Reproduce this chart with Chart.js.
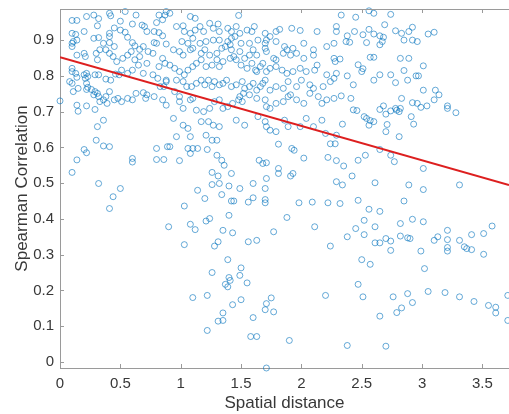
<!DOCTYPE html>
<html>
<head>
<meta charset="utf-8">
<script src="https://cdn.jsdelivr.net/npm/chart.js@4.4.1/dist/chart.umd.min.js"></script>
<style>
  html, body { margin: 0; padding: 0; background: #fff; }
  #wrap { width: 509px; height: 414px; }
</style>
</head>
<body>
<div id="wrap"><canvas id="chart" width="509" height="414"></canvas></div>
<script>
// Axis ticks
const xTicks = [0, 0.5, 1, 1.5, 2, 2.5, 3, 3.5];
const yTicks = [0, 0.1, 0.2, 0.3, 0.4, 0.5, 0.6, 0.7, 0.8, 0.9];

// Linear fit (end points)
const fitDistance = [0, 3.72];
const fitCorrelation = [0.852, 0.495];

// [spatial distance, spearman correlation]
const pointsNear = [
  [0.00,0.73],[0.10,0.955],[0.14,0.955],[0.22,0.966],[0.28,0.97],[0.32,0.96],[0.41,0.975],[0.42,0.968],[0.54,0.98],[0.63,0.97],[0.82,0.97],[0.87,0.97],[0.88,0.98],
  [0.31,0.94],[0.50,0.953],[0.45,0.934],[0.60,0.945],[0.68,0.942],[0.80,0.949],[0.85,0.957],
  [0.10,0.919],[0.13,0.916],[0.20,0.924],[0.10,0.891],[0.14,0.90],[0.10,0.882],[0.11,0.896],[0.28,0.905],[0.32,0.907],[0.41,0.919],[0.41,0.91],[0.50,0.928],[0.54,0.922],[0.36,0.891],[0.41,0.893],[0.45,0.882],[0.56,0.908],[0.60,0.893],[0.62,0.884],[0.66,0.874],[0.69,0.882],[0.78,0.924],[0.82,0.921],[0.85,0.912],[0.80,0.891],[0.78,0.893],[0.88,0.889],[0.72,0.924],[0.70,0.938],
  [0.33,0.873],[0.30,0.863],[0.31,0.845],[0.38,0.873],[0.41,0.863],[0.44,0.854],[0.47,0.84],[0.52,0.849],[0.56,0.858],[0.59,0.868],[0.62,0.845],[0.66,0.854],[0.73,0.868],[0.77,0.863],[0.85,0.849],[0.87,0.835],[0.82,0.826],
  [0.14,0.858],[0.20,0.863],[0.21,0.854],[0.10,0.821],[0.10,0.812],[0.13,0.807],[0.14,0.796],[0.20,0.803],[0.22,0.807],[0.23,0.798],[0.21,0.793],[0.29,0.803],[0.32,0.803],[0.38,0.791],[0.42,0.788],[0.46,0.805],[0.49,0.803],[0.51,0.816],[0.56,0.807],[0.60,0.816],[0.65,0.83],[0.72,0.835],[0.69,0.807],[0.77,0.803],[0.81,0.793],[0.88,0.788],
  [0.08,0.784],[0.10,0.779],[0.11,0.756],[0.15,0.765],[0.22,0.779],[0.23,0.768],[0.29,0.756],[0.31,0.751],[0.32,0.742],[0.36,0.733],[0.38,0.742],[0.39,0.723],[0.41,0.756],[0.45,0.733],[0.48,0.737],[0.51,0.728],[0.56,0.737],[0.60,0.733],[0.63,0.751],[0.69,0.753],[0.72,0.747],[0.71,0.737],[0.78,0.742],[0.83,0.77],[0.86,0.77],[0.88,0.784],[0.85,0.733],[0.88,0.718],
  [0.14,0.718],[0.15,0.701],[0.22,0.716],[0.29,0.706],[0.36,0.676],[0.31,0.658],[0.28,0.747],[0.33,0.728],[0.22,0.762],[0.26,0.762],
  [0.10,0.53],[0.14,0.565],[0.20,0.594],[0.22,0.585],[0.30,0.62],[0.36,0.604],[0.41,0.602],[0.32,0.499],[0.44,0.462],[0.50,0.485],[0.41,0.429],[0.60,0.569],[0.60,0.559],[0.80,0.597],[0.80,0.566],[0.86,0.566],[0.89,0.602],[0.90,0.378]
];

const pointsMid = [
  [0.91,0.975],[1.08,0.966],[1.12,0.961],[1.48,0.969],
  [0.965,0.938],[1.02,0.94],[1.03,0.924],[1.08,0.919],[1.12,0.928],[1.16,0.938],[1.19,0.924],[1.24,0.947],[1.27,0.933],[1.31,0.945],[1.32,0.924],[1.39,0.933],[1.42,0.924],[1.46,0.938],[1.49,0.919],[1.55,0.928],[1.59,0.924],[1.61,0.938],[1.70,0.919],[1.74,0.91],[1.79,0.924],[1.82,0.93],[1.92,0.933],[1.99,0.927],[2.13,0.924],[2.29,0.938],[2.29,0.924],
  [1.01,0.896],[1.06,0.891],[1.10,0.905],[1.16,0.891],[1.21,0.896],[1.27,0.90],[1.32,0.90],[1.39,0.896],[1.42,0.905],[1.45,0.91],[1.50,0.891],[1.57,0.891],[1.64,0.90],[1.71,0.90],[1.79,0.896],[1.86,0.882],[1.93,0.877],[2.02,0.891],[2.10,0.873],[2.21,0.882],[2.27,0.891],
  [0.94,0.873],[0.99,0.868],[1.02,0.858],[1.08,0.873],[1.10,0.877],[1.17,0.863],[1.20,0.873],[1.24,0.858],[1.30,0.863],[1.34,0.877],[1.37,0.882],[1.41,0.887],[1.42,0.873],[1.44,0.854],[1.49,0.868],[1.53,0.849],[1.57,0.858],[1.60,0.873],[1.63,0.858],[1.70,0.877],[1.70,0.891],[1.71,0.868],[1.77,0.849],[1.79,0.845],[1.85,0.863],[1.88,0.873],[1.91,0.858],[1.96,0.863],[2.02,0.849],[2.10,0.858],[2.13,0.83],[2.27,0.849],[2.28,0.84],
  [0.91,0.83],[0.95,0.821],[0.99,0.812],[1.03,0.803],[1.06,0.816],[1.10,0.826],[1.13,0.835],[1.17,0.845],[1.21,0.826],[1.26,0.83],[1.30,0.845],[1.32,0.826],[1.35,0.84],[1.41,0.849],[1.46,0.845],[1.50,0.83],[1.55,0.821],[1.59,0.835],[1.62,0.816],[1.63,0.812],[1.66,0.826],[1.68,0.835],[1.71,0.812],[1.74,0.821],[1.79,0.826],[1.84,0.816],[1.88,0.807],[1.93,0.812],[1.99,0.821],[2.04,0.812],[2.11,0.816],[2.21,0.803],[2.27,0.793],[2.29,0.807],
  [0.965,0.788],[1.02,0.784],[1.05,0.77],[1.09,0.77],[1.13,0.779],[1.17,0.788],[1.20,0.775],[1.23,0.788],[1.26,0.77],[1.28,0.784],[1.32,0.775],[1.35,0.779],[1.38,0.788],[1.42,0.77],[1.46,0.775],[1.51,0.784],[1.53,0.765],[1.57,0.77],[1.60,0.779],[1.63,0.76],[1.66,0.77],[1.68,0.779],[1.70,0.788],[1.74,0.76],[1.79,0.77],[1.85,0.765],[1.89,0.784],[1.96,0.77],[2.00,0.788],[2.07,0.775],[2.10,0.765],[2.18,0.77],[2.24,0.784],
  [0.95,0.756],[0.99,0.742],[0.99,0.728],[1.02,0.709],[1.08,0.733],[1.10,0.737],[1.13,0.704],[1.19,0.70],[1.24,0.709],[1.28,0.728],[1.32,0.733],[1.35,0.709],[1.39,0.714],[1.43,0.723],[1.48,0.733],[1.49,0.742],[1.51,0.728],[1.52,0.751],[1.57,0.747],[1.63,0.737],[1.70,0.733],[1.71,0.714],[1.74,0.709],[1.79,0.723],[1.85,0.728],[1.89,0.742],[1.91,0.747],[1.96,0.733],[2.02,0.723],[2.07,0.751],[2.14,0.742],[2.17,0.723],[2.21,0.733],[2.27,0.737],
  [0.94,0.681],[1.02,0.662],[1.06,0.653],[1.17,0.672],[1.23,0.672],[1.27,0.662],[1.32,0.658],[1.46,0.676],[1.53,0.662],[1.64,0.686],[1.70,0.672],[1.71,0.658],[1.74,0.648],[1.79,0.644],[1.86,0.676],[1.89,0.658],[1.99,0.658],[2.04,0.681],[2.10,0.658],[2.17,0.676],[2.20,0.639],[2.29,0.634],[0.965,0.63],[1.08,0.63],[1.21,0.634]
];

const pointsFar = [
  [2.33,0.97],[2.45,0.964],[2.56,0.982],[2.60,0.975],[2.74,0.972],[2.69,0.943],[2.56,0.93],[2.44,0.924],[2.38,0.912],[2.51,0.915],[2.60,0.917],[2.65,0.912],[2.68,0.908],[2.67,0.896],[2.78,0.926],[2.83,0.919],[2.89,0.924],[2.92,0.936],[2.85,0.90],[2.92,0.90],[2.96,0.896],[3.05,0.917],[3.10,0.922],[2.37,0.896],[2.40,0.894],[2.54,0.893],[2.65,0.887],
  [2.32,0.847],[2.57,0.852],[2.60,0.852],[2.82,0.849],[2.89,0.849],[2.47,0.831],[2.51,0.82],[2.50,0.812],[2.38,0.80],[2.43,0.775],[2.60,0.788],[2.65,0.803],[2.74,0.803],[2.78,0.781],[2.85,0.815],[2.88,0.788],[2.95,0.80],[2.97,0.80],[3.01,0.828],
  [3.01,0.76],[3.11,0.76],[3.14,0.747],[3.10,0.733],[2.33,0.744],[2.41,0.737],[2.43,0.705],[2.46,0.703],[2.52,0.686],[2.54,0.681],[2.57,0.675],[2.60,0.672],[2.56,0.662],[2.65,0.706],[2.68,0.716],[2.70,0.693],[2.74,0.702],[2.78,0.709],[2.79,0.704],[2.81,0.70],[2.83,0.737],[2.82,0.709],[2.92,0.725],[2.96,0.723],[2.99,0.712],[3.04,0.716],[3.21,0.716],[3.21,0.709],[3.28,0.697],[2.91,0.686],[2.93,0.665],[2.71,0.664],[2.70,0.644],[2.81,0.63],[2.34,0.665]
];

const pointsLow = [
  [0.91,0.602],[0.99,0.563],[1.06,0.597],[1.10,0.597],[1.14,0.597],[1.08,0.583],[1.22,0.594],[1.26,0.62],[1.30,0.62],[1.30,0.578],[1.34,0.564],[1.36,0.55],[1.81,0.609],[1.92,0.597],[1.94,0.592],[2.24,0.61],[2.28,0.61],[2.22,0.572],[2.29,0.563],
  [1.26,0.53],[1.31,0.52],[1.42,0.527],[1.26,0.496],[1.32,0.499],[1.40,0.492],[1.14,0.48],[1.20,0.457],[1.34,0.468],[1.49,0.485],[1.60,0.499],[1.65,0.564],[1.68,0.555],[1.71,0.557],[1.71,0.513],[1.81,0.541],[1.81,0.527],[1.91,0.52],[1.93,0.527],[2.02,0.57],[1.70,0.485],
  [1.56,0.447],[1.60,0.459],[1.70,0.454],[1.70,0.445],[1.42,0.45],[1.44,0.45],[1.98,0.445],[2.09,0.447],[2.22,0.445],[2.29,0.504],[1.03,0.436],[1.40,0.41],[1.24,0.401],[1.21,0.394],[1.08,0.385],[1.12,0.37],[1.35,0.368],[1.43,0.361],[1.77,0.364],[1.88,0.404],[2.11,0.378],
  [1.31,0.336],[1.28,0.324],[1.56,0.336],[1.63,0.34],[1.03,0.328],[2.24,0.324],[1.39,0.286],[1.50,0.263],[1.26,0.25],[1.49,0.242],[1.40,0.236],
  [2.65,0.594],[2.53,0.578],[2.47,0.564],[2.74,0.578],[2.77,0.56],[2.35,0.548],[2.42,0.52],[3.01,0.541],[2.34,0.495],[2.61,0.501],[2.89,0.495],[3.01,0.482],[3.31,0.495],[2.47,0.452],[2.85,0.45],[2.56,0.427],[2.65,0.421],[2.32,0.443],
  [2.52,0.396],[2.45,0.373],[2.61,0.378],[2.82,0.387],[2.92,0.399],[3.01,0.392],[2.38,0.35],[2.52,0.356],[2.61,0.333],[2.65,0.333],[2.70,0.345],[2.74,0.338],[2.82,0.352],[2.88,0.347],[2.90,0.345],[2.74,0.312],[2.99,0.31],[3.10,0.34],[3.13,0.35],[3.21,0.368],[3.21,0.342],[3.21,0.32],[3.21,0.31],[3.31,0.34],[3.35,0.322],[3.37,0.317],[3.41,0.314],[3.41,0.356],[3.51,0.359],[3.58,0.38],[3.51,0.301],[2.50,0.286],[2.57,0.273],[3.02,0.261],
  [1.37,0.217],[1.39,0.21],[1.41,0.228],[1.55,0.221],[1.10,0.18],[1.22,0.186],[1.43,0.16],[1.50,0.174],[1.71,0.163],[1.70,0.146],[1.75,0.179],[1.77,0.14],[1.35,0.137],[1.35,0.116],[1.31,0.114],[1.22,0.088],[1.60,0.124],[1.58,0.071],[1.63,0.071],[1.90,0.06],[1.71,-0.017],[2.20,0.186],
  [2.47,0.217],[2.51,0.182],[2.38,0.046],[2.70,0.044],[2.65,0.128],[2.76,0.182],[2.79,0.138],[2.83,0.151],[2.88,0.191],[2.92,0.166],[3.05,0.197],[3.19,0.194],[3.31,0.182],[3.43,0.169],[3.55,0.158],[3.61,0.153],[3.61,0.137],[3.71,0.186],[3.71,0.116]
];

const FONT = 'Liberation Sans, Arial, Helvetica, sans-serif';
const TEXT_COLOR = '#383838';
const AXIS_COLOR = '#9a9a9a';

const allPoints = pointsNear.concat(pointsMid, pointsFar, pointsLow)
  .map(p => ({ x: p[0], y: p[1] }));
const fitPoints = fitDistance.map((d, i) => ({ x: d, y: fitCorrelation[i] }));

// MATLAB style box: top edge plus tick marks pointing inward
const innerTicks = {
  id: 'innerTicks',
  afterDatasetsDraw(chart) {
    const { ctx, chartArea, scales: { x, y } } = chart;
    ctx.save();
    ctx.strokeStyle = AXIS_COLOR;
    ctx.lineWidth = 1;
    ctx.beginPath();
    ctx.moveTo(chartArea.left, chartArea.top + 0.5);
    ctx.lineTo(chartArea.right, chartArea.top + 0.5);
    xTicks.forEach(v => {
      const px = Math.round(x.getPixelForValue(v)) + 0.5;
      ctx.moveTo(px, chartArea.bottom);
      ctx.lineTo(px, chartArea.bottom - 4);
      ctx.moveTo(px, chartArea.top);
      ctx.lineTo(px, chartArea.top + 4);
    });
    yTicks.forEach(v => {
      const py = Math.round(y.getPixelForValue(v)) + 0.5;
      ctx.moveTo(chartArea.left, py);
      ctx.lineTo(chartArea.left + 4, py);
    });
    ctx.stroke();
    ctx.restore();
  }
};

new Chart(document.getElementById('chart').getContext('2d'), {
  type: 'scatter',
  data: {
    datasets: [
      {
        label: 'fit',
        data: fitPoints,
        showLine: true,
        borderColor: '#dd1f1f',
        borderWidth: 2,
        pointRadius: 0,
        fill: false
      },
      {
        label: 'pairs',
        data: allPoints,
        pointStyle: 'circle',
        pointRadius: 3,
        backgroundColor: 'rgba(0,0,0,0)',
        borderColor: 'rgba(0,114,189,0.8)',
        borderWidth: 0.75,
        clip: false
      }
    ]
  },
  options: {
    responsive: false,
    animation: false,
    devicePixelRatio: 1,
    layout: { autoPadding: false, padding: { top: 9, right: 0, left: 0, bottom: 0 } },
    plugins: {
      legend: { display: false },
      tooltip: { enabled: false }
    },
    scales: {
      x: {
        type: 'linear',
        min: 0,
        max: 3.72,
        afterBuildTicks: s => { s.ticks = xTicks.map(v => ({ value: v })); },
        afterFit: s => { s.height = 46; },
        grid: { display: false, drawTicks: false },
        border: { display: true, color: AXIS_COLOR, width: 1 },
        ticks: {
          padding: 7,
          color: TEXT_COLOR,
          font: { family: FONT, size: 15 },
          maxRotation: 0,
          autoSkip: false,
          callback: v => String(v)
        },
        title: {
          display: true,
          text: 'Spatial distance',
          color: TEXT_COLOR,
          font: { family: FONT, size: 17 },
          padding: { top: 0, bottom: 0 }
        }
      },
      y: {
        type: 'linear',
        min: -0.017,
        max: 0.987,
        afterBuildTicks: s => { s.ticks = yTicks.map(v => ({ value: v })); },
        afterFit: s => {
          s.width = 60;
          // labels sit well inside the range, no extra room needed above/below
          s.paddingTop = 0;
          s.paddingBottom = 0;
        },
        grid: { display: false, drawTicks: false },
        border: { display: true, color: AXIS_COLOR, width: 1 },
        ticks: {
          padding: 6,
          color: TEXT_COLOR,
          font: { family: FONT, size: 15 },
          autoSkip: false,
          callback: v => String(v)
        },
        title: {
          display: true,
          text: 'Spearman Correlation',
          color: TEXT_COLOR,
          font: { family: FONT, size: 17 },
          padding: { top: 12, bottom: 0 }
        }
      }
    }
  },
  plugins: [innerTicks]
});
</script>
</body>
</html>
